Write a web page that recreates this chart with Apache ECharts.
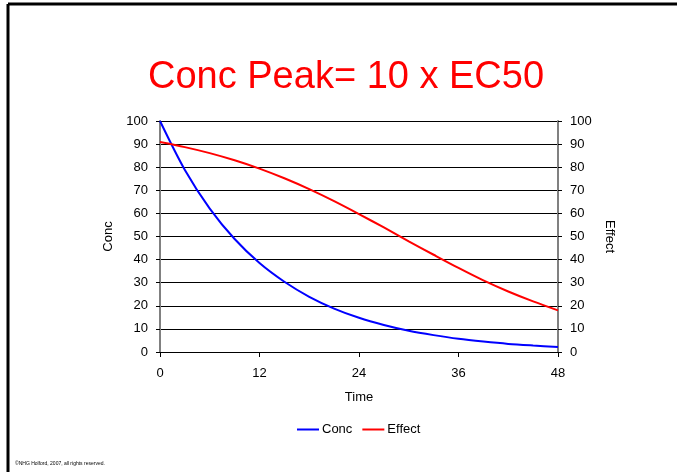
<!DOCTYPE html>
<html>
<head>
<meta charset="utf-8">
<script src="https://cdn.jsdelivr.net/npm/echarts@6/dist/echarts.min.js"></script>
<style>
  html, body { margin: 0; padding: 0; background: #fff; }
  #chart { width: 677px; height: 472px; }
</style>
</head>
<body>
<div id="chart"></div>
<script>
// values, every 3 h
var times = [0, 3, 6, 9, 12, 15, 18, 21, 24, 27, 30, 33, 36, 39, 42, 45, 48];
var concValues = [100, 78.8, 62.1, 48.9, 38.5, 30.4, 23.9, 18.8, 14.8, 11.7, 9.2, 7.3, 5.7, 4.5, 3.5, 2.8, 2.2];
var effectValues = [90.9, 88.7, 86.1, 83.0, 79.4, 75.2, 70.5, 65.3, 59.7, 53.9, 47.9, 42.1, 36.4, 31.0, 26.2, 21.9, 18.0];
var xTicks = [0, 12, 24, 36, 48];

var font = "Liberation Sans, Arial, sans-serif";

function pairs(ys) {
  return times.map(function (t, i) { return [t, ys[i]]; });
}

var chart = echarts.init(document.getElementById("chart"));

chart.setOption({
  animation: false,
  backgroundColor: "#fff",
  title: {
    text: "Conc Peak= 10 x EC50",
    left: 148,
    top: 59,
    padding: 0,
    textStyle: {
      color: "#ff0000",
      fontSize: 38,
      fontWeight: "normal",
      fontFamily: font
    }
  },
  graphic: [
    // slide frame, left and top edges only
    { type: "line", shape: { x1: 8, y1: 4, x2: 677, y2: 4 }, style: { stroke: "#000", lineWidth: 3 } },
    { type: "line", shape: { x1: 8, y1: 4, x2: 8, y2: 472 }, style: { stroke: "#000", lineWidth: 3 } },
    {
      type: "text",
      left: 15,
      top: 461,
      style: {
        text: "©NHG Holford, 2007, all rights reserved.",
        fontSize: 5,
        fontFamily: font,
        fill: "#000"
      }
    }
  ],
  legend: {
    data: ["Conc", "Effect"],
    bottom: 36,
    left: 297,
    padding: 0,
    itemWidth: 22,
    itemHeight: 2,
    itemGap: 10,
    icon: "rect",
    textStyle: { fontSize: 13, fontFamily: font, color: "#000", padding: [0, 0, 0, -2] }
  },
  grid: {
    left: 160,
    right: 119,
    top: 121,
    bottom: 120
  },
  xAxis: {
    type: "value",
    min: 0,
    max: 48,
    interval: 12,
    name: "Time",
    nameLocation: "middle",
    nameGap: 39,
    nameTextStyle: { fontSize: 13, fontFamily: font, color: "#000" },
    axisLine: { lineStyle: { color: "#000", width: 1 } },
    axisTick: { show: true, length: 5, lineStyle: { color: "#000" } },
    axisLabel: { fontSize: 13, fontFamily: font, color: "#000", margin: 15,
      customValues: xTicks },
    splitLine: { show: false }
  },
  yAxis: [
    {
      type: "value",
      min: 0,
      max: 100,
      interval: 10,
      name: "Conc",
      nameLocation: "middle",
      nameGap: 36,
      nameTextStyle: { fontSize: 13, fontFamily: font, color: "#000" },
      axisLine: { show: true, lineStyle: { color: "#808080", width: 2 } },
      axisTick: { show: true, length: 4, lineStyle: { color: "#000" } },
      axisLabel: { fontSize: 13, fontFamily: font, color: "#000", margin: 12 },
      splitLine: { show: true, lineStyle: { color: "#000", width: 1 } }
    },
    {
      type: "value",
      min: 0,
      max: 100,
      interval: 10,
      position: "right",
      name: "Effect",
      nameLocation: "middle",
      nameRotate: -90,
      nameGap: 38,
      nameTextStyle: { fontSize: 13, fontFamily: font, color: "#000" },
      axisLine: { show: true, lineStyle: { color: "#808080", width: 2 } },
      axisTick: { show: true, length: 4, lineStyle: { color: "#000" } },
      axisLabel: { fontSize: 13, fontFamily: font, color: "#000", margin: 12 },
      splitLine: { show: false }
    }
  ],
  series: [
    {
      name: "Conc",
      type: "line",
      yAxisIndex: 0,
      data: pairs(concValues),
      smooth: 0.3,
      showSymbol: false,
      color: "#0000ff",
      lineStyle: { color: "#0000ff", width: 2 }
    },
    {
      name: "Effect",
      type: "line",
      yAxisIndex: 1,
      data: pairs(effectValues),
      smooth: 0.3,
      showSymbol: false,
      color: "#ff0000",
      lineStyle: { color: "#ff0000", width: 2 }
    }
  ]
});
</script>
</body>
</html>
